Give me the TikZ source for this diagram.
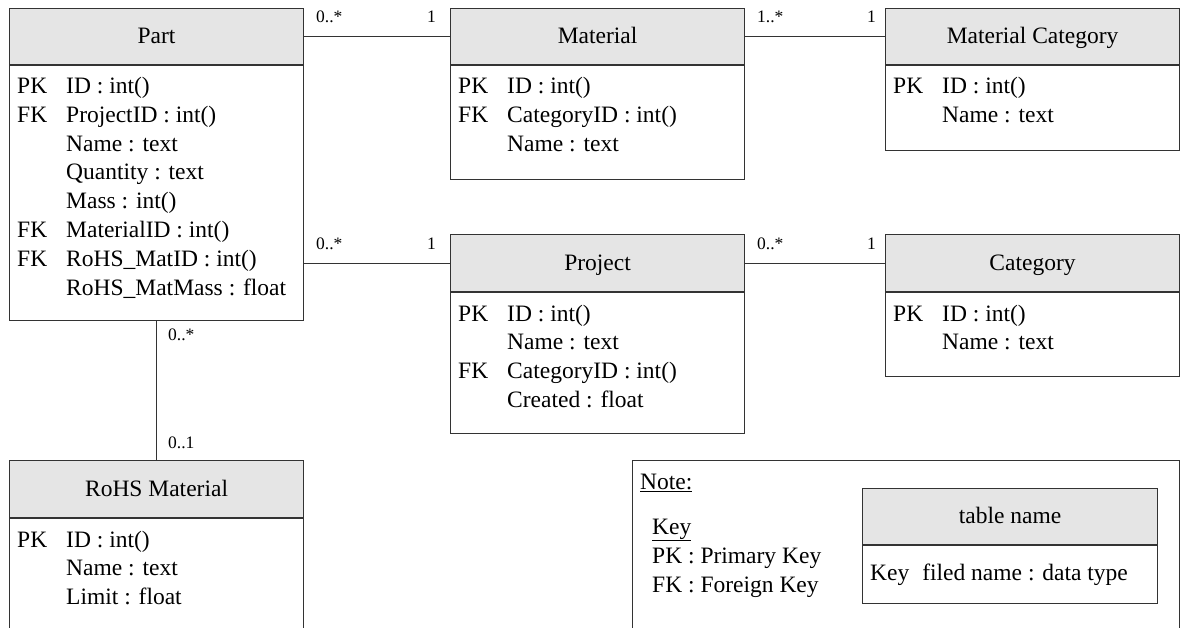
\documentclass[tikz,border=0pt]{standalone}
\usepackage{fontspec}
\setmainfont{Liberation Serif}
\usetikzlibrary{calc}

% database schema: tables, relations and a legend
\tikzset{
  edge/.style={draw=black!80, line width=1.1pt},
  tblhead/.style={edge, fill=black!10, rectangle, inner sep=0pt,
    minimum width=294pt, minimum height=56pt, anchor=north west,
    text height=17pt, text depth=3pt,
    font=\fontsize{23.5}{28}\selectfont},
  tblbody/.style={edge, rectangle, inner sep=0pt, minimum width=294pt,
    anchor=north west},
  fld/.style={inner sep=0pt, anchor=base west, font=\fontsize{23.5}{28}\selectfont},
  mult/.style={inner sep=0pt, font=\fontsize{17.5}{20}\selectfont},
}

\begin{document}
\begin{tikzpicture}[x=1pt, y=-1pt]
\useasboundingbox (0,0) rectangle (1182,628);

% ---------- Part ----------
\node[tblhead] (part-h) at (9,8) {Part};
\node[tblbody, minimum height=255pt] (part-b) at (part-h.south west) {};
\node[fld] (part-k1) at (17,94) {PK};
\node[fld] (part-f1) at (66,94) {ID : int()};
\node[fld] (part-k2) at (17,123) {FK};
\node[fld] (part-f2) at (66,123) {ProjectID : int()};
\node[fld] (part-f3) at (66,151.5) {Name : text};
\node[fld] (part-f4) at (66,180) {Quantity : text};
\node[fld] (part-f5) at (66,209) {Mass : int()};
\node[fld] (part-k6) at (17,237.5) {FK};
\node[fld] (part-f6) at (66,237.5) {MaterialID : int()};
\node[fld] (part-k7) at (17,266) {FK};
\node[fld] (part-f7) at (66,266) {RoHS\_MatID : int()};
\node[fld] (part-f8) at (66,295) {RoHS\_MatMass : float};

% ---------- Material ----------
\node[tblhead] (mat-h) at (450,8) {Material};
\node[tblbody, minimum height=114pt] (mat-b) at (mat-h.south west) {};
\node[fld] (mat-k1) at (458,94) {PK};
\node[fld] (mat-f1) at (507,94) {ID : int()};
\node[fld] (mat-k2) at (458,123) {FK};
\node[fld] (mat-f2) at (507,123) {CategoryID : int()};
\node[fld] (mat-f3) at (507,151.5) {Name : text};

% ---------- Material Category ----------
\node[tblhead] (mc-h) at (885,8) {Material Category};
\node[tblbody, minimum height=85pt] (mc-b) at (mc-h.south west) {};
\node[fld] (mc-k1) at (893,94) {PK};
\node[fld] (mc-f1) at (942,94) {ID : int()};
\node[fld] (mc-f2) at (942,123) {Name : text};

% ---------- Project ----------
\node[tblhead, minimum height=57pt] (proj-h) at (450,234) {Project};
\node[tblbody, minimum height=141pt] (proj-b) at (proj-h.south west) {};
\node[fld] (proj-k1) at (458,321) {PK};
\node[fld] (proj-f1) at (507,321) {ID : int()};
\node[fld] (proj-f2) at (507,349.5) {Name : text};
\node[fld] (proj-k3) at (458,378) {FK};
\node[fld] (proj-f3) at (507,378) {CategoryID : int()};
\node[fld] (proj-f4) at (507,407) {Created : float};

% ---------- Category ----------
\node[tblhead, minimum height=57pt] (cat-h) at (885,234) {Category};
\node[tblbody, minimum height=84pt] (cat-b) at (cat-h.south west) {};
\node[fld] (cat-k1) at (893,321) {PK};
\node[fld] (cat-f1) at (942,321) {ID : int()};
\node[fld] (cat-f2) at (942,349.5) {Name : text};

% ---------- RoHS Material ----------
\node[tblhead, minimum height=57pt] (rohs-h) at (9,460) {RoHS Material};
\node[tblbody, minimum height=140pt] (rohs-b) at (rohs-h.south west) {};
\node[fld] (rohs-k1) at (17,547) {PK};
\node[fld] (rohs-f1) at (66,547) {ID : int()};
\node[fld] (rohs-f2) at (66,575.5) {Name : text};
\node[fld] (rohs-f3) at (66,604) {Limit : float};

% ---------- relations ----------
\draw[edge] (part-h.east) -- (mat-h.west);
\draw[edge] (mat-h.east) -- (mc-h.west);
\draw[edge] (proj-h.west -| part-b.east) -- (proj-h.west);
\draw[edge] (proj-h.east) -- (cat-h.west);
\draw[edge] (part-b.south) -- (rohs-h.north);

\node[mult, anchor=base west] (m1a) at (316,23) {0..*};
\node[mult, anchor=base east] (m1b) at (436,23) {1};
\node[mult, anchor=base west] (m2a) at (757,23) {1..*};
\node[mult, anchor=base east] (m2b) at (876,23) {1};
\node[mult, anchor=base west] (m3a) at (316,250) {0..*};
\node[mult, anchor=base east] (m3b) at (436,250) {1};
\node[mult, anchor=base west] (m4a) at (757,250) {0..*};
\node[mult, anchor=base east] (m4b) at (876,250) {1};
\node[mult, anchor=base west] (m5a) at (168,340) {0..*};
\node[mult, anchor=base west] (m5b) at (168,448) {0..1};

% ---------- legend ----------
\node[edge, rectangle, inner sep=0pt, anchor=north west,
      minimum width=547pt, minimum height=180pt] (note) at (632,460) {};
\node[fld] (note-t) at (640,489) {\underline{Note:}};
\node[fld] (note-k) at (652,534) {\underline{Key}};
\node[fld] (note-pk) at (652,563) {PK : Primary Key};
\node[fld] (note-fk) at (652,592) {FK : Foreign Key};

\node[tblhead, minimum width=295pt] (leg-h) at (862,488) {table name};
\node[tblbody, minimum width=295pt, minimum height=58pt] (leg-b) at (leg-h.south west) {};
\node[fld] (leg-f) at (870,580) {Key\hspace{0.3em} filed name : data type};
\end{tikzpicture}
\end{document}
